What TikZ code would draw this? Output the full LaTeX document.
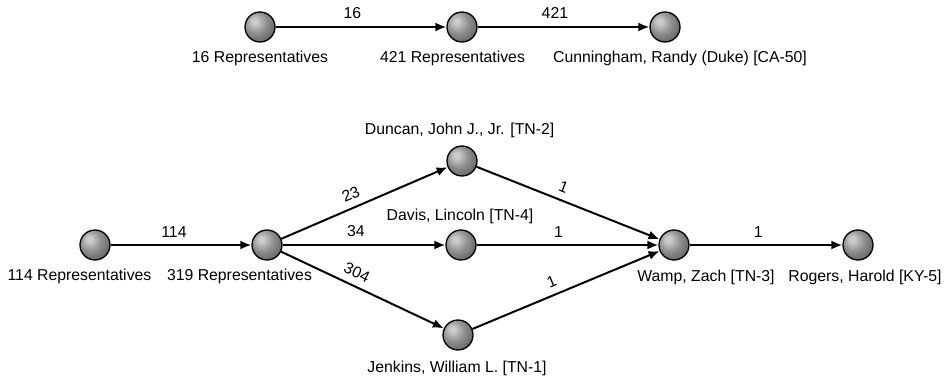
\documentclass[tikz,border=0pt]{standalone}
\usepackage{fontspec}
\setmainfont{Liberation Sans}
\usetikzlibrary{arrows.meta}

% grey sphere: light spot up-left, darker toward the lower right
\definecolor{sphHi}{gray}{0.80}
\definecolor{sphMid}{gray}{0.56}
\definecolor{sphLow}{gray}{0.40}
\definecolor{sphDark}{gray}{0.27}
\pgfdeclareradialshading{greysphere}{\pgfpoint{-10bp}{10bp}}{%
  color(0bp)=(sphHi); color(4bp)=(sphHi);
  color(18bp)=(sphMid); color(32bp)=(sphLow);
  color(52bp)=(sphDark); color(70bp)=(sphDark)}

\begin{document}
\begin{tikzpicture}[x=1pt,y=-1pt,
  member/.style={circle, draw=black, line width=1.3pt, minimum size=30pt,
    inner sep=0pt, shading=greysphere},
  who/.style={font=\fontsize{15.8}{18}\selectfont, anchor=base, inner sep=0pt},
  flow/.style={-{Latex[length=11pt,width=9pt]}, line width=2pt},
  count/.style={font=\fontsize{15.8}{18}\selectfont, sloped, above=6pt,
    pos=0.45, inner sep=1pt}]
\useasboundingbox (0,0) rectangle (945,382);

% upper chain
\node[member] (t1) at (260,27) {};
\node[member] (t2) at (462,27) {};
\node[member] (t3) at (665,27) {};
\node[who] (t1l) at (260,63) {16 Representatives};
\node[who] (t2l) at (452.5,63) {421 Representatives};
\node[who] (t3l) at (680,63) {Cunningham, Randy (Duke) [CA-50]};

% lower network
\node[member] (a)  at (95,245) {};
\node[member] (b)  at (267,245) {};
\node[member] (du) at (462,161) {};
\node[member] (da) at (461,245) {};
\node[member] (je) at (458,335) {};
\node[member] (wa) at (674,245) {};
\node[member] (ro) at (858,245) {};

\node[who] (al)  at (79.5,280) {114 Representatives};
\node[who] (bl)  at (239.5,280) {319 Representatives};
\node[who] (dul) at (459.6,135) {Duncan, John J., Jr. [TN-2]};
\node[who] (dal) at (460,221) {Davis, Lincoln [TN-4]};
\node[who] (jel) at (457,372) {Jenkins, William L. [TN-1]};
\node[who] (wal) at (706,281.5) {Wamp, Zach [TN-3]};
\node[who] (rol) at (865,281.5) {Rogers, Harold [KY-5]};

% connectors with counts
\draw[flow] (t1) -- node[count] {16} (t2);
\draw[flow] (t2) -- node[count] {421} (t3);

\draw[flow] (a) -- node[count] {114} (b);
\draw[flow] (b) -- node[count] {23} (du);
\draw[flow] (b) -- node[count] {34} (da);
\draw[flow] (b) -- node[count, pos=0.43] {304} (je);
\draw[flow] (du) -- node[count] {1} (wa);
\draw[flow] (da) -- node[count] {1} (wa);
\draw[flow] (je) -- node[count] {1} (wa);
\draw[flow] (wa) -- node[count] {1} (ro);
\end{tikzpicture}
\end{document}
